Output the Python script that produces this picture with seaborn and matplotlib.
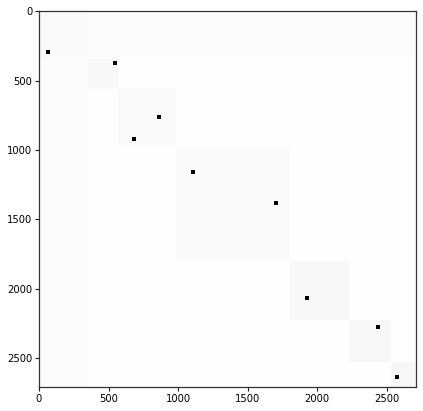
import numpy as np
import pandas as pd
import matplotlib
matplotlib.use("Agg")
import matplotlib.pyplot as plt
import seaborn as sns

# class sizes (nodes sorted by class), gives the diagonal blocks
class_sizes = [351, 217, 418, 818, 426, 298, 180]

# approx edge density shade per block (diagonal) and background
diag_shade = [0.04, 0.055, 0.045, 0.04, 0.055, 0.06, 0.065]
offdiag_shade = 0.01
first_col_shade = 0.02

# highlighted nodes (column, row)
pts_x = [67, 544, 860, 682, 1105, 1707, 1925, 2435, 2570]
pts_y = [295, 371, 761, 920, 1161, 1382, 2067, 2277, 2634]

n_cls = len(class_sizes)
block = np.full((n_cls, n_cls), offdiag_shade)
block[0, :] = first_col_shade
block[:, 0] = first_col_shade
for i in range(n_cls):
    block[i, i] = diag_shade[i]

idx = np.repeat(np.arange(n_cls), class_sizes)
mat = block[np.ix_(idx, idx)].astype(np.float32)
n = mat.shape[0]

sns.set_style("ticks", {"axes.edgecolor": "0.2", "xtick.color": "0.1", "ytick.color": "0.1",
                        "text.color": "black"})
plt.rcParams["xtick.major.size"] = 2.6
plt.rcParams["ytick.major.size"] = 2.6
plt.rcParams["xtick.major.pad"] = 2.2
plt.rcParams["ytick.major.pad"] = 2.2
plt.rcParams["axes.linewidth"] = 0.9

fig = plt.figure(figsize=(4.23, 4.11), dpi=100)
ax = fig.add_axes([0.092, 0.058, 0.891, 0.915])

ax.imshow(mat, cmap="Greys", vmin=0, vmax=1, interpolation="nearest",
          extent=(0, n, n, 0), aspect="auto")

df = pd.DataFrame({"x": pts_x, "y": pts_y})
sns.scatterplot(data=df, x="x", y="y", ax=ax, marker="s", color="black",
                s=10, linewidth=0)

ax.set_xlim(0, n)
ax.set_ylim(n, 0)
ax.set_xticks([0, 500, 1000, 1500, 2000, 2500])
ax.set_yticks([0, 500, 1000, 1500, 2000, 2500])
ax.set_xlabel("")
ax.set_ylabel("")
ax.tick_params(labelsize=7.2, labelcolor="black")

plt.savefig("out.png", dpi=100)
plt.close()
